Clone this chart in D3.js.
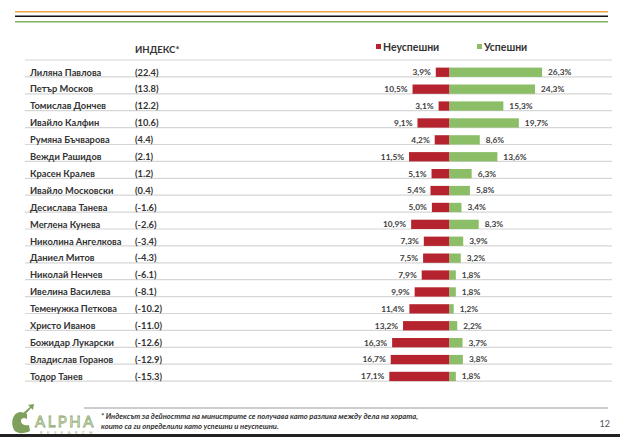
<!DOCTYPE html>
<html>
<head>
<meta charset="utf-8">
<script src="https://cdn.jsdelivr.net/npm/d3@7"></script>
<style>
  body { margin: 0; background: #fff; }
  svg { display: block; font-family: Lato, "Open Sans", sans-serif; }
</style>
</head>
<body>
<script>
// ministers, index and shares (in %)
var names = ["Лиляна Павлова", "Петър Москов", "Томислав Дончев", "Ивайло Калфин", "Румяна Бъчварова",
  "Вежди Рашидов", "Красен Кралев", "Ивайло Московски", "Десислава Танева", "Меглена Кунева",
  "Николина Ангелкова", "Даниел Митов", "Николай Ненчев", "Ивелина Василева", "Теменужка Петкова",
  "Христо Иванов", "Божидар Лукарски", "Владислав Горанов", "Тодор Танев"];
var indexValues = [22.4, 13.8, 12.2, 10.6, 4.4, 2.1, 1.2, 0.4, -1.6, -2.6, -3.4, -4.3, -6.1, -8.1, -10.2, -11.0, -12.6, -12.9, -15.3];
var unsuccessful = [3.9, 10.5, 3.1, 9.1, 4.2, 11.5, 5.1, 5.4, 5.0, 10.9, 7.3, 7.5, 7.9, 9.9, 11.4, 13.2, 16.3, 16.7, 17.1];
var successful = [26.3, 24.3, 15.3, 19.7, 8.6, 13.6, 6.3, 5.8, 3.4, 8.3, 3.9, 3.2, 1.8, 1.8, 1.2, 2.2, 3.7, 3.8, 1.8];
var seriesNames = ["Неуспешни", "Успешни"];

var w = 620, h = 437;
var red = "#b5242e", green = "#8cbd67";

var svg = d3.select("body").append("svg")
    .attr("width", w)
    .attr("height", h);

// top decoration lines
[["#f0a545", 11.7], ["#111", 16.3], ["#7db35a", 21.7]].forEach(function (l) {
  svg.append("line").attr("x1", 15).attr("x2", 608).attr("y1", l[1]).attr("y2", l[1])
    .attr("stroke", l[0]).attr("stroke-width", 1.6);
});

var rows = names.map(function (n, i) {
  return { name: n, index: indexValues[i], neg: unsuccessful[i], pos: successful[i] };
});

var y = d3.scaleBand().domain(names).range([60, 60 + 17.3 * names.length]).padding(0.45);
var x = d3.scaleLinear().domain([-20, 30]).range([449.5 - 70.4, 449.5 + 105.6]);

// row separators
var bounds = d3.range(names.length + 1).map(function (i) { return 60 + i * y.step(); });
svg.selectAll("line.sep").data(bounds).enter().append("line")
    .attr("class", "sep")
    .attr("x1", 25).attr("x2", 612)
    .attr("y1", function (d) { return d; }).attr("y2", function (d) { return d; })
    .attr("stroke", "#d6d6d6").attr("stroke-width", 1.2);

// header
svg.append("text").attr("x", 135).attr("y", 53)
    .attr("font-size", 9.5).attr("font-weight", "bold").attr("fill", "#333")
    .text("ИНДЕКС*");

// legend
var legend = svg.selectAll("g.leg").data(seriesNames).enter().append("g")
    .attr("class", "leg")
    .attr("transform", function (d, i) { return "translate(" + (i ? 477 : 376) + ",0)"; });
legend.append("rect").attr("x", 0).attr("y", 44).attr("width", 5).attr("height", 5)
    .attr("fill", function (d, i) { return i ? green : red; });
legend.append("text").attr("x", 7).attr("y", 51)
    .attr("font-size", 10.5).attr("font-weight", "bold").attr("fill", "#333")
    .text(function (d) { return d; });

var row = svg.selectAll("g.row").data(rows).enter().append("g").attr("class", "row");
var mid = function (d) { return y(d.name) + y.bandwidth() / 2; };

row.append("text").attr("x", 30).attr("y", mid).attr("dy", "0.35em")
    .attr("font-size", 9.3).attr("font-weight", "bold").attr("fill", "#333")
    .text(function (d) { return d.name; });
row.append("text").attr("x", 135).attr("y", mid).attr("dy", "0.35em")
    .attr("font-size", 9.3).attr("font-weight", "bold").attr("fill", "#333")
    .text(function (d) { return "(" + d.index.toFixed(1) + ")"; });

row.append("rect")
    .attr("x", function (d) { return x(-d.neg); })
    .attr("y", function (d) { return y(d.name); })
    .attr("width", function (d) { return x(0) - x(-d.neg); })
    .attr("height", y.bandwidth())
    .attr("fill", red);
row.append("rect")
    .attr("x", x(0))
    .attr("y", function (d) { return y(d.name); })
    .attr("width", function (d) { return x(d.pos) - x(0); })
    .attr("height", y.bandwidth())
    .attr("fill", green);

var fmt = function (v) { return v.toFixed(1).replace(".", ",") + "%"; };
row.append("text").attr("x", function (d) { return x(-d.neg) - 5; }).attr("y", mid).attr("dy", "0.35em")
    .attr("text-anchor", "end").attr("font-size", 8.3).attr("fill", "#404040").attr("font-weight", "bold")
    .text(function (d) { return fmt(d.neg); });
row.append("text").attr("x", function (d) { return x(d.pos) + 6; }).attr("y", mid).attr("dy", "0.35em")
    .attr("font-size", 8.3).attr("fill", "#404040").attr("font-weight", "bold")
    .text(function (d) { return fmt(d.pos); });

// footer
svg.append("line").attr("x1", 84).attr("x2", 608).attr("y1", 408).attr("y2", 408)
    .attr("stroke", "#bdbdbd").attr("stroke-width", 1.3);
var note = svg.append("text").attr("font-size", 7.6).attr("font-style", "italic")
    .attr("font-weight", "bold").attr("fill", "#333");
note.append("tspan").attr("x", 101).attr("y", 419)
    .text("* Индексът за дейността на министрите се получава като разлика между дела на хората,");
note.append("tspan").attr("x", 101).attr("y", 429)
    .text("които са ги определили като успешни и неуспешни.");
svg.append("text").attr("x", 610).attr("y", 427).attr("text-anchor", "end")
    .attr("font-size", 9).attr("fill", "#555").text("12");

// logo
var logo = svg.append("g");
logo.append("path")
    .attr("d", "M14,430 C10,422 13,413 20,412 C23,412 25,414 27,414 L27,419 C24,417 21,418 21,421 C21,424 24,426 29,425 L30,431 C24,434 17,434 14,430 Z")
    .attr("fill", "#7fa05a");
logo.append("path").attr("d", "M22,414 L30,407 L28,405 L34,404 L33,410 L31,408 L24,416 Z").attr("fill", "#7fa05a");
logo.append("text").attr("x", 35).attr("y", 427).attr("font-size", 15).attr("letter-spacing", 2.5)
    .attr("fill", "none").attr("stroke", "#8aa86a").attr("stroke-width", 0.8).text("ALPHA");
logo.append("text").attr("x", 40).attr("y", 434).attr("font-size", 4).attr("letter-spacing", 4.6)
    .attr("fill", "#9ab07e").text("RESEARCH");

// bottom bar
svg.append("rect").attr("x", 0).attr("y", 434).attr("width", w).attr("height", 3).attr("fill", "#222");
</script>
</body>
</html>
